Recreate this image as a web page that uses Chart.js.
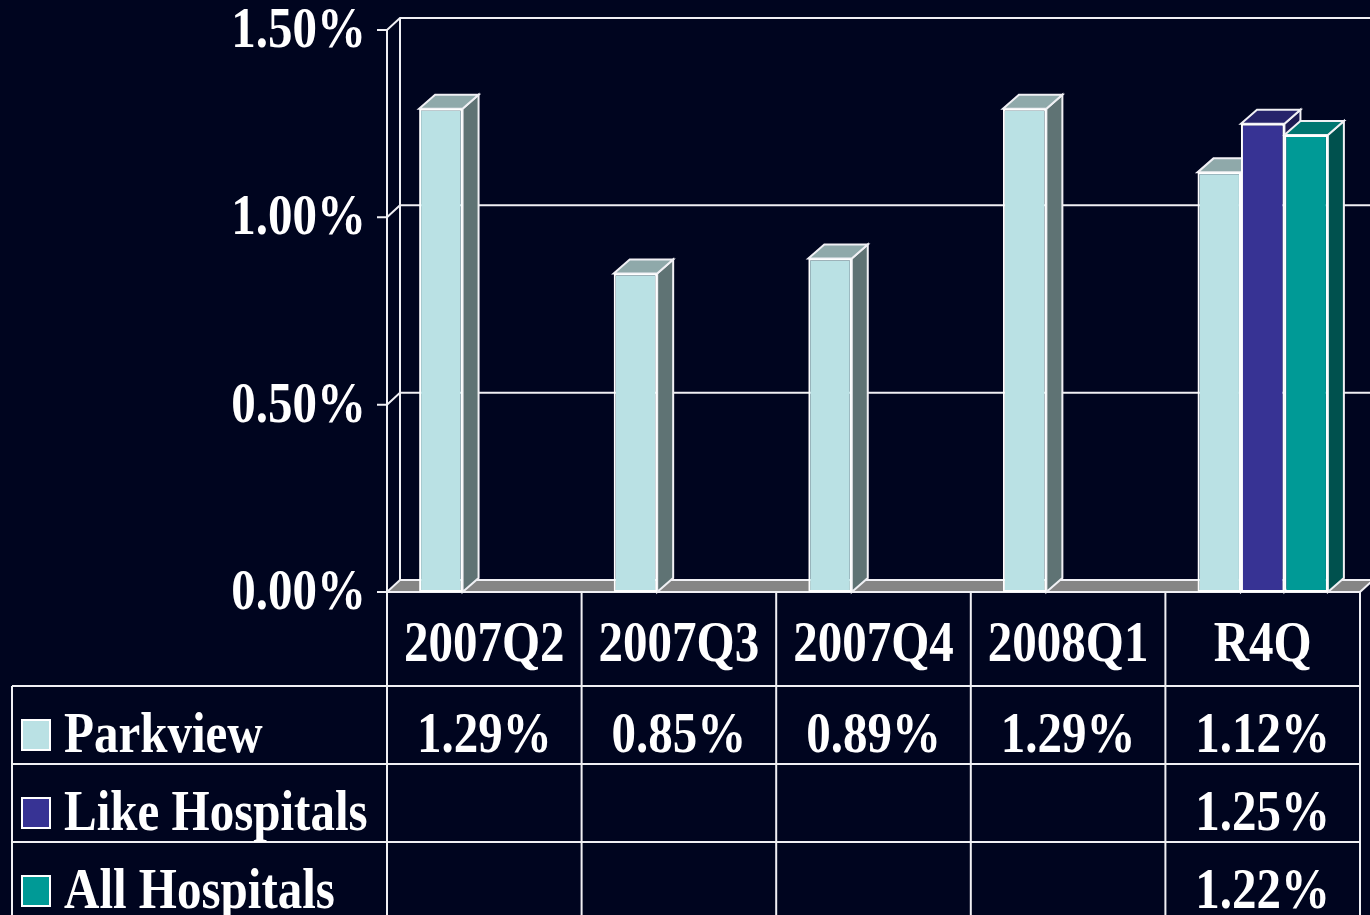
<!DOCTYPE html>
<html>
<head>
<meta charset="utf-8">
<script src="https://cdn.jsdelivr.net/npm/chart.js@4.4.0/dist/chart.umd.min.js"></script>
<style>
  html,body{margin:0;padding:0;background:#00051f;overflow:hidden}
  #wrap{width:1370px;height:915px;position:relative}
</style>
</head>
<body>
<div id="wrap"><canvas id="c"></canvas></div>
<script>
'use strict';
// ---- data ----
const categories = ['2007Q2','2007Q3','2007Q4','2008Q1','R4Q'];
const seriesNames = ['Parkview','Like Hospitals','All Hospitals'];
const parkview = [1.29, 0.85, 0.89, 1.29, 1.12];
const likeHospitals = [null, null, null, null, 1.25];
const allHospitals = [null, null, null, null, 1.22];
const yTicks = [0, 0.5, 1.0, 1.5];

// ---- look ----
const LINE = '#f0f0f4';
const frontColors = ['#bae1e4', '#373394', '#009a96'];
const topColors = ['#8fa9aa', '#27246b', '#007671'];
const sideColors = ['#5f7374', '#1d1b52', '#00514e'];
const FONT = 'bold 49px "Liberation Serif", "Times New Roman", serif';
const STRETCH = 1.15;
const WALL = {dx: 13, dy: -12};
const BAR = {dx: 16, dy: -14};
const TABLE_LEFT = 12;
const HEADER_H = 94;
const ROW_H = 78;

function pct(v){ return v.toFixed(2) + '%'; }

function drawText(ctx, txt, x, y, align){
  ctx.save();
  ctx.translate(x, y);
  ctx.scale(1, STRETCH);
  ctx.font = FONT;
  ctx.fillStyle = '#ffffff';
  ctx.textAlign = align;
  ctx.textBaseline = 'alphabetic';
  ctx.fillText(txt, 0, 0);
  ctx.restore();
}

function poly(ctx, pts, fill){
  ctx.beginPath();
  ctx.moveTo(pts[0][0], pts[0][1]);
  for(let i = 1; i < pts.length; i++) ctx.lineTo(pts[i][0], pts[i][1]);
  ctx.closePath();
  if(fill){ ctx.fillStyle = fill; ctx.fill(); }
  ctx.stroke();
}

const box3d = {
  id: 'box3d',
  beforeDatasetsDraw(chart){
    const {ctx, chartArea: a, scales: {x, y}} = chart;
    const y0 = y.getPixelForValue(0);
    ctx.save();
    ctx.lineWidth = 2;
    ctx.strokeStyle = LINE;
    // floor
    poly(ctx, [[a.left, y0], [a.right, y0], [a.right + WALL.dx, y0 + WALL.dy], [a.left + WALL.dx, y0 + WALL.dy]], '#858585');
    // back wall gridlines + tick marks
    yTicks.forEach(v => {
      const py = y.getPixelForValue(v);
      ctx.beginPath();
      ctx.moveTo(a.left - 10, py);
      ctx.lineTo(a.left, py);
      if(v > 0){
        ctx.lineTo(a.left + WALL.dx, py + WALL.dy);
        ctx.lineTo(chart.width, py + WALL.dy);
      }
      ctx.stroke();
    });
    // wall left edge and front axis
    const yTop = y.getPixelForValue(yTicks[yTicks.length - 1]);
    ctx.beginPath();
    ctx.moveTo(a.left + WALL.dx, y0 + WALL.dy);
    ctx.lineTo(a.left + WALL.dx, yTop + WALL.dy);
    ctx.moveTo(a.left, y0);
    ctx.lineTo(a.left, yTop);
    ctx.stroke();
    // bar tops and sides, left to right
    categories.forEach((c, j) => {
      chart.data.datasets.forEach((ds, i) => {
        if(ds.data[j] == null) return;
        const bar = chart.getDatasetMeta(i).data[j];
        const p = bar.getProps(['x', 'y', 'base', 'width'], true);
        const l = p.x - p.width / 2, r = p.x + p.width / 2;
        poly(ctx, [[r, p.y], [r + BAR.dx, p.y + BAR.dy], [r + BAR.dx, p.base + BAR.dy], [r, p.base]], sideColors[i]);
        poly(ctx, [[l, p.y], [r, p.y], [r + BAR.dx, p.y + BAR.dy], [l + BAR.dx, p.y + BAR.dy]], topColors[i]);
      });
    });
    ctx.restore();
  },
  afterDraw(chart){
    const {ctx, chartArea: a, scales: {x, y}} = chart;
    const y0 = y.getPixelForValue(0);
    const catW = (a.right - a.left) / categories.length;
    const edges = categories.map((c, j) => x.getPixelForValue(j) - catW / 2);
    edges.push(a.right);
    const rowTops = [y0 + HEADER_H];
    seriesNames.forEach((s, i) => rowTops.push(rowTops[i] + ROW_H));
    const bottom = rowTops[rowTops.length - 1];

    ctx.save();
    ctx.lineWidth = 2;
    ctx.strokeStyle = LINE;
    // y labels
    yTicks.forEach(v => drawText(ctx, pct(v), a.left - 21, y.getPixelForValue(v) + 17, 'right'));
    // table grid
    ctx.beginPath();
    edges.forEach(ex => { ctx.moveTo(ex, y0); ctx.lineTo(ex, bottom); });
    ctx.moveTo(TABLE_LEFT, rowTops[0]);
    ctx.lineTo(TABLE_LEFT, bottom);
    rowTops.slice(0, -1).forEach(ry => { ctx.moveTo(TABLE_LEFT, ry); ctx.lineTo(a.right, ry); });
    ctx.stroke();
    // header
    categories.forEach((c, j) => drawText(ctx, c, x.getPixelForValue(j), y0 + 69, 'center'));
    // rows
    chart.data.datasets.forEach((ds, i) => {
      const top = rowTops[i];
      ctx.fillStyle = frontColors[i];
      ctx.fillRect(22, top + 34, 28, 30);
      ctx.strokeStyle = '#ffffff';
      ctx.strokeRect(22, top + 34, 28, 30);
      drawText(ctx, seriesNames[i], 64, top + 66, 'left');
      ds.data.forEach((v, j) => {
        if(v == null) return;
        drawText(ctx, pct(v), x.getPixelForValue(j), top + 66, 'center');
      });
    });
    ctx.restore();
  }
};

const seriesValues = [parkview, likeHospitals, allHospitals];

new Chart(document.getElementById('c'), {
  type: 'bar',
  data: {
    labels: categories,
    datasets: seriesNames.map((name, i) => ({
      label: name,
      data: seriesValues[i],
      backgroundColor: frontColors[i],
      borderColor: '#ffffff',
      borderWidth: 2,
      borderSkipped: false,
      barPercentage: 1.0,
      categoryPercentage: 0.67
    }))
  },
  options: {
    responsive: true,
    maintainAspectRatio: false,
    animation: false,
    devicePixelRatio: 1,
    layout: {padding: {left: 387, right: 10, top: 30, bottom: 323}},
    plugins: {legend: {display: false}, tooltip: {enabled: false}},
    scales: {
      x: {display: false},
      y: {display: false, min: 0, max: 1.5, ticks: {stepSize: 0.5}}
    }
  },
  plugins: [box3d]
});
</script>
</body>
</html>
